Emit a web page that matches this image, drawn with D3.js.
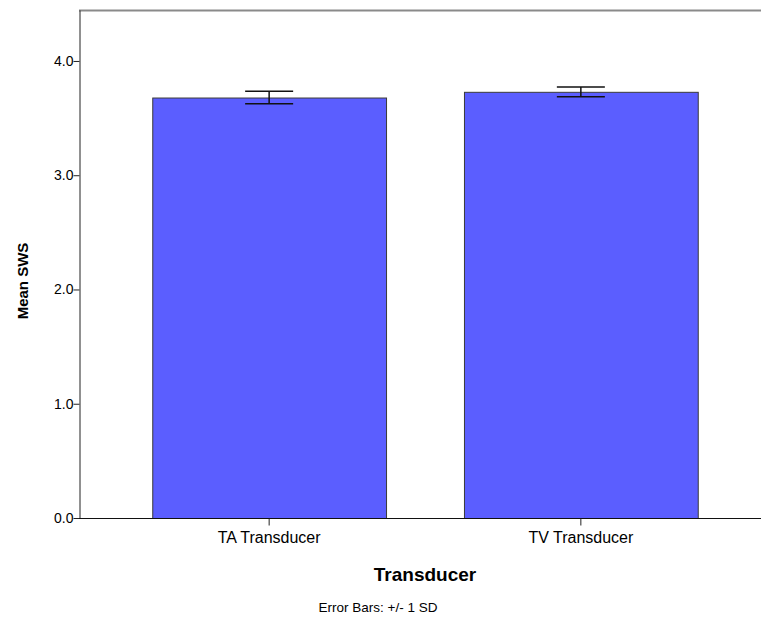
<!DOCTYPE html>
<html>
<head>
<meta charset="utf-8">
<script src="https://cdn.jsdelivr.net/npm/d3@7"></script>
<style>
  body { margin: 0; background: #fff; }
  text { font-family: "Liberation Sans", Arial, sans-serif; fill: #000; }
</style>
</head>
<body>
<div id="chart"></div>
<script>
/* SPSS-style bar chart with error bars */

const categories = ["TA Transducer", "TV Transducer"];
const means = [3.68, 3.73];
const sds = [0.055, 0.043];
const yTicks = [0, 1, 2, 3, 4];

const width = 761,
  height = 620,
  margin = ({ top: 10, right: 0, bottom: 102, left: 79 });

const svg = d3.select("#chart")
  .append("svg")
  .attr("width", width)
  .attr("height", height);

const data = categories.map((c, i) => ({ cat: c, mean: means[i], sd: sds[i] }));

const x = d3.scaleBand()
  .domain(categories)
  .range([margin.left, width + 10])
  .paddingInner(0.25)
  .paddingOuter(0.235);

const y = d3.scaleLinear()
  .domain([0, 4.446])
  .range([height - margin.bottom, margin.top]);

// top frame line
svg.append("line")
  .attr("x1", margin.left)
  .attr("x2", width)
  .attr("y1", margin.top + 0.5)
  .attr("y2", margin.top + 0.5)
  .attr("stroke", "#8a8a8a")
  .attr("stroke-width", 2);

// bars
svg.append("g")
  .selectAll("rect")
  .data(data)
  .join("rect")
  .attr("x", d => x(d.cat) + 0.5)
  .attr("width", x.bandwidth())
  .attr("y", d => y(d.mean) + 0.5)
  .attr("height", d => y(0) - y(d.mean))
  .attr("fill", "#5b5eff")
  .attr("stroke", "#3a3a3a")
  .attr("stroke-width", 1);

// error bars
const capW = 48;
const err = svg.append("g")
  .attr("stroke", "#111")
  .attr("stroke-width", 1.5)
  .selectAll("g")
  .data(data)
  .join("g");

err.append("line")
  .attr("x1", d => x(d.cat) + x.bandwidth() / 2)
  .attr("x2", d => x(d.cat) + x.bandwidth() / 2)
  .attr("y1", d => y(d.mean + d.sd))
  .attr("y2", d => y(d.mean - d.sd));

err.append("line")
  .attr("x1", d => x(d.cat) + x.bandwidth() / 2 - capW / 2)
  .attr("x2", d => x(d.cat) + x.bandwidth() / 2 + capW / 2)
  .attr("y1", d => y(d.mean + d.sd))
  .attr("y2", d => y(d.mean + d.sd));

err.append("line")
  .attr("x1", d => x(d.cat) + x.bandwidth() / 2 - capW / 2)
  .attr("x2", d => x(d.cat) + x.bandwidth() / 2 + capW / 2)
  .attr("y1", d => y(d.mean - d.sd))
  .attr("y2", d => y(d.mean - d.sd));

// y axis
const yAxis = svg.append("g")
  .attr("transform", `translate(${margin.left + 0.5},0)`)
  .call(d3.axisLeft(y).tickValues(yTicks).tickFormat(d3.format(".1f")).tickSize(6).tickSizeOuter(0));
yAxis.select(".domain").attr("stroke", "#222");
yAxis.selectAll(".tick line").attr("stroke", "#222");
yAxis.selectAll(".tick text")
  .attr("font-size", 14)
  .attr("font-family", "Liberation Sans, Arial, sans-serif")
  .attr("fill", "#222")
  .attr("x", -6);

// x axis
const xAxis = svg.append("g")
  .attr("transform", `translate(0,${height - margin.bottom + 0.5})`)
  .call(d3.axisBottom(x).tickSize(7).tickSizeOuter(0));
xAxis.select(".domain").attr("d", `M${margin.left},0H${width}`).attr("stroke", "#111");
xAxis.selectAll(".tick line").attr("stroke", "#222");
xAxis.selectAll(".tick text")
  .attr("font-size", 16)
  .attr("font-family", "Liberation Sans, Arial, sans-serif")
  .attr("fill", "#222")
  .attr("y", 13);

// axis titles
svg.append("text")
  .attr("x", 425)
  .attr("y", 581)
  .attr("text-anchor", "middle")
  .attr("font-size", 19)
  .attr("font-weight", "bold")
  .text("Transducer");

svg.append("text")
  .attr("transform", `translate(28,${(margin.top + height - margin.bottom) / 2 + 17}) rotate(-90)`)
  .attr("text-anchor", "middle")
  .attr("font-size", 15)
  .attr("font-weight", "bold")
  .text("Mean SWS");

svg.append("text")
  .attr("x", 378)
  .attr("y", 612)
  .attr("text-anchor", "middle")
  .attr("font-size", 13.5)
  .attr("fill", "#222")
  .text("Error Bars: +/- 1 SD");
</script>
</body>
</html>
